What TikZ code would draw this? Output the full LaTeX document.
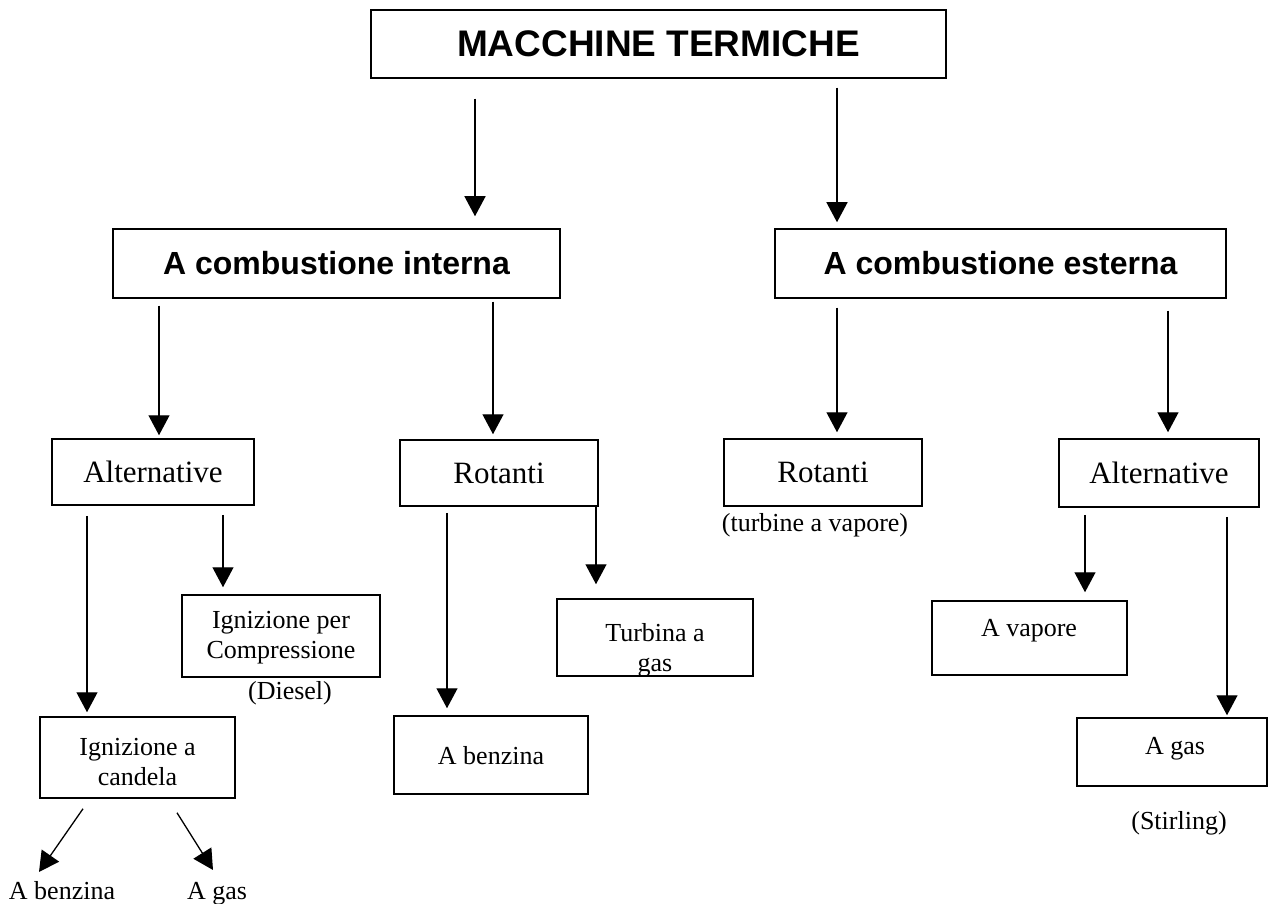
\documentclass[tikz,border=0pt]{standalone}
\usepackage{fontspec}
\setmainfont{Liberation Serif}
\newfontfamily\headfont{Liberation Sans}
\usetikzlibrary{arrows.meta,calc}

\tikzset{
  box/.style={draw=black, line width=1.5pt, fill=white, inner sep=0pt},
  arr/.style={line width=1.3pt, -{Triangle[length=20pt,width=21pt]}},
  titletext/.style={font=\headfont\bfseries\fontsize{37}{44}\selectfont, inner sep=0pt},
  headtext/.style={font=\headfont\bfseries\fontsize{32}{38}\selectfont, inner sep=0pt},
  midtext/.style={font=\fontsize{31}{36}\selectfont, inner sep=0pt},
  smalltext/.style={font=\fontsize{26}{30}\selectfont, inner sep=0pt, align=center},
}

\begin{document}
\begin{tikzpicture}[x=1pt,y=-1pt]
\useasboundingbox (0,0) rectangle (1270,904);

% level 0
\node[box, titletext, minimum width=575pt, minimum height=68pt] (top) at (658.5,44) {MACCHINE TERMICHE};

% level 1
\node[box, headtext, minimum width=447pt, minimum height=69pt] (ci) at (336.5,263.5) {A combustione interna};
\node[box, headtext, minimum width=451pt, minimum height=69pt] (ce) at (1000.5,263.5) {A combustione esterna};

% level 2
\node[box, midtext, minimum width=202pt, minimum height=66pt] (alt1) at (153,472) {Alternative};
\node[box, midtext, minimum width=198pt, minimum height=66pt] (rot1) at (499,473) {Rotanti};
\node[box, midtext, minimum width=198pt, minimum height=67pt] (rot2) at (823,472.5) {Rotanti};
\node[box, midtext, minimum width=200pt, minimum height=68pt] (alt2) at (1159,473) {Alternative};
\node[smalltext] (rot2note) at (815,525) {(turbine a vapore)};

% level 3
\node[box, minimum width=198pt, minimum height=82pt] (icp) at (281,636) {};
\node[smalltext] (icptext) at (281,638) {Ignizione per\\Compressione};
\node[smalltext, anchor=base] (icpnote) at (290,699) {(Diesel)};

% the second line of this box runs into its lower border
\begin{scope}
  \clip (557,599) rectangle (753,676);
  \node[smalltext] (tgtext) at (655,650) {Turbina a\\gas};
\end{scope}
\node[box, fill=none, minimum width=196pt, minimum height=77pt] (tg) at (655,637.5) {};

\node[box, minimum width=195pt, minimum height=74pt] (av) at (1029.5,638) {};
\node[smalltext] (avtext) at (1029,631) {A vapore};

\node[box, minimum width=190pt, minimum height=68pt] (ag) at (1172,752) {};
\node[smalltext] (agtext) at (1175,749) {A gas};
\node[smalltext, anchor=base] (agnote) at (1179,829) {(Stirling)};

\node[box, minimum width=195pt, minimum height=81pt] (ica) at (137.5,757.5) {};
\node[smalltext] (icatext) at (137.5,762) {Ignizione a\\candela};

\node[box, minimum width=194pt, minimum height=78pt] (ab) at (491,755) {};
\node[smalltext] (abtext) at (491,756) {A benzina};

% leaves
\node[smalltext, anchor=base] (benz) at (62,899) {A benzina};
\node[smalltext, anchor=base] (gas) at (217,899) {A gas};

% connectors
\draw[arr] ($(top.south)+(-183.5,20)$) -- ($(ci.north)+(138.5,-12)$);
\draw[arr] ($(top.south)+(178.5,9)$) -- ($(ce.north)+(-163.5,-6)$);

\draw[arr] ($(ci.south)+(-177.5,7)$) -- ($(alt1.north)+(6,-3)$);
\draw[arr] ($(ci.south)+(156.5,3)$) -- ($(rot1.north)+(-6,-5)$);
\draw[arr] ($(ce.south)+(-163.5,9)$) -- ($(rot2.north)+(14,-6)$);
\draw[arr] ($(ce.south)+(167.5,12)$) -- ($(alt2.north)+(9,-6)$);

\draw[arr] ($(alt1.south)+(-66,10)$) -- ($(ica.north)+(-50.5,-4)$);
\draw[arr] ($(alt1.south)+(70,9)$) -- ($(icp.north)+(-58,-7)$);
\draw[arr] ($(rot1.south)+(-52,6)$) -- ($(ab.north)+(-44,-7)$);
\draw[arr] ($(rot1.south)+(97,0)$) -- ($(tg.north)+(-59,-14)$);
\draw[arr] ($(alt2.south)+(-74,7)$) -- ($(av.north)+(55.5,-8)$);
\draw[arr] ($(alt2.south)+(68,9)$) -- ($(ag.north)+(55,-2)$);

\draw[arr] ($(ica.south)+(-54.5,10)$) -- ($(benz.base)+(-23,-27)$);
\draw[arr] ($(ica.south)+(39.5,14)$) -- ($(gas.base)+(-4,-29)$);
\end{tikzpicture}
\end{document}
